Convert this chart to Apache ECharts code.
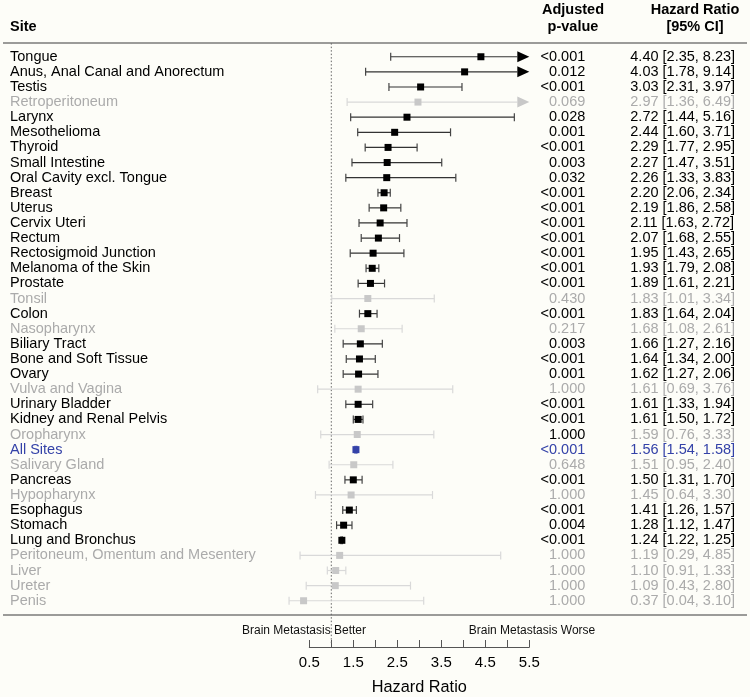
<!DOCTYPE html>
<html><head><meta charset="utf-8">
<script src="https://cdn.jsdelivr.net/npm/echarts@6/dist/echarts.min.js"></script>
<style>html,body{margin:0;padding:0;background:#fdfdf8}#c{width:750px;height:697px}</style>
</head><body><div id="c"></div>
<script>
const sites = ['Tongue','Anus, Anal Canal and Anorectum','Testis','Retroperitoneum','Larynx','Mesothelioma','Thyroid','Small Intestine','Oral Cavity excl. Tongue','Breast','Uterus','Cervix Uteri','Rectum','Rectosigmoid Junction','Melanoma of the Skin','Prostate','Tonsil','Colon','Nasopharynx','Biliary Tract','Bone and Soft Tissue','Ovary','Vulva and Vagina','Urinary Bladder','Kidney and Renal Pelvis','Oropharynx','All Sites','Salivary Gland','Pancreas','Hypopharynx','Esophagus','Stomach','Lung and Bronchus','Peritoneum, Omentum and Mesentery','Liver','Ureter','Penis'];
const hr = [4.40,4.03,3.03,2.97,2.72,2.44,2.29,2.27,2.26,2.20,2.19,2.11,2.07,1.95,1.93,1.89,1.83,1.83,1.68,1.66,1.64,1.62,1.61,1.61,1.61,1.59,1.56,1.51,1.50,1.45,1.41,1.28,1.24,1.19,1.10,1.09,0.37];
const lo = [2.35,1.78,2.31,1.36,1.44,1.60,1.77,1.47,1.33,2.06,1.86,1.63,1.68,1.43,1.79,1.61,1.01,1.64,1.08,1.27,1.34,1.27,0.69,1.33,1.50,0.76,1.54,0.95,1.31,0.64,1.26,1.12,1.22,0.29,0.91,0.43,0.04];
const hi = [8.23,9.14,3.97,6.49,5.16,3.71,2.95,3.51,3.83,2.34,2.58,2.72,2.55,2.65,2.08,2.21,3.34,2.04,2.61,2.16,2.00,2.06,3.76,1.94,1.72,3.33,1.58,2.40,1.70,3.30,1.57,1.47,1.25,4.85,1.33,2.80,3.10];
const pvals = ['<0.001','0.012','<0.001','0.069','0.028','0.001','<0.001','0.003','0.032','<0.001','<0.001','<0.001','<0.001','<0.001','<0.001','<0.001','0.430','<0.001','0.217','0.003','<0.001','0.001','1.000','<0.001','<0.001','1.000','<0.001','0.648','<0.001','1.000','<0.001','0.004','<0.001','1.000','1.000','1.000','1.000'];
// k = significant (black), g = not significant (grey), b = all sites (blue)
const rowStyle = ['k','k','k','g','k','k','k','k','k','k','k','k','k','k','k','k','g','k','g','k','k','k','g','k','k','g','b','g','k','g','k','k','k','g','g','g','g'];
const pStyle   = ['k','k','k','g','k','k','k','k','k','k','k','k','k','k','k','k','g','k','g','k','k','k','g','k','k','k','b','g','k','g','k','k','k','g','g','g','g'];
const xTickLabels = ['0.5','1.5','2.5','3.5','4.5','5.5'];
const xMin = 0.5, xMax = 5.5;

const FONT = '"Liberation Sans", Arial, Helvetica, sans-serif';
const COL = {k:'#000000', g:'#ababab', b:'#3442a8'};
const rich = {
  k:{color:COL.k, fontSize:14.5, fontFamily:FONT},
  g:{color:COL.g, fontSize:14.5, fontFamily:FONT},
  b:{color:COL.b, fontSize:14.5, fontFamily:FONT}
};
const hrText = hr.map((v,i)=> v.toFixed(2)+' ['+lo[i].toFixed(2)+', '+hi[i].toFixed(2)+']');

function renderItem(params, api) {
  const i = params.dataIndex;
  const v = api.value(0), l = api.value(1), h = api.value(2), row = api.value(3);
  const st = rowStyle[i];
  const pC = api.coord([v, row]);
  const pL = api.coord([l, row]);
  const clipped = h > xMax;
  const pH = api.coord([clipped ? xMax : h, row]);
  const band = api.size([0, 1])[1];
  const lineColor = st === 'g' ? '#d9d9d9' : (st === 'b' ? '#3442a8' : '#333333');
  const boxColor = st === 'g' ? '#c8c8c8' : (st === 'b' ? '#3442a8' : '#000000');
  const capColor = st === 'g' ? '#d9d9d9' : (st === 'b' ? '#3442a8' : '#444444');
  const arrowColor = st === 'g' ? '#c8c8c8' : '#000000';
  const cap = 4, box = 7, arrowLen = 12, arrowHalf = 5.5;
  const y = pC[1];
  const children = [];
  if (i === 0) {
    const top = api.coord([1, 0]);
    const bot = api.coord([1, sites.length - 1]);
    children.push({type:'line', z2:0, shape:{x1:top[0], y1:top[1] - 0.9*band, x2:bot[0], y2:bot[1] + 2.8*band},
      style:{stroke:'#666', lineWidth:1, lineDash:[1.5,2]}});
  }
  const lineEnd = clipped ? pH[0] - arrowLen : pH[0];
  children.push({type:'line', shape:{x1:pL[0], y1:y, x2:lineEnd, y2:y}, style:{stroke:lineColor, lineWidth:1.2}});
  children.push({type:'line', shape:{x1:pL[0], y1:y-cap, x2:pL[0], y2:y+cap}, style:{stroke:capColor, lineWidth:1.2}});
  if (!clipped) {
    children.push({type:'line', shape:{x1:pH[0], y1:y-cap, x2:pH[0], y2:y+cap}, style:{stroke:capColor, lineWidth:1.2}});
  } else {
    children.push({type:'polygon', shape:{points:[[pH[0]-arrowLen, y-arrowHalf],[pH[0], y],[pH[0]-arrowLen, y+arrowHalf]]}, style:{fill:arrowColor}});
  }
  children.push({type:'rect', shape:{x:pC[0]-box/2, y:y-box/2, width:box, height:box}, style:{fill:boxColor}});
  return {type:'group', children};
}

const chart = echarts.init(document.getElementById('c'), null, {renderer:'canvas'});
const gridLeft = 309.3, gridRight = 220.7, gridTop = 49.2, gridBottom = 88.7;
chart.setOption({
  backgroundColor:'#fdfdf8',
  animation:false,
  grid:{left:gridLeft, right:gridRight, top:gridTop, bottom:gridBottom, containLabel:false, outerBoundsMode:'none'},
  xAxis:{
    type:'value', min:xMin, max:xMax, interval:0.5, position:'bottom', offset:38.7,
    axisLine:{show:true, lineStyle:{color:'#555', width:1}},
    axisTick:{show:true, inside:true, length:7, lineStyle:{color:'#555', width:1}},
    splitLine:{show:false},
    axisLabel:{margin:8, fontSize:15, color:'#000', fontFamily:FONT,
      formatter:(val)=>{ const s = val.toFixed(1); return xTickLabels.indexOf(s) >= 0 ? s : ''; }},
    name:'Hazard Ratio', nameLocation:'middle', nameGap:33,
    nameTextStyle:{fontSize:16.3, color:'#000', fontFamily:FONT}
  },
  yAxis:[
    {type:'category', data:sites, inverse:true, position:'left',
     axisLine:{show:false}, axisTick:{show:false}, splitLine:{show:false},
     axisLabel:{interval:0, align:'left', margin:gridLeft-10, hideOverlap:false,
       formatter:(val, idx)=>'{'+rowStyle[idx]+'|'+sites[idx]+'}', rich:rich}},
    {type:'category', data:sites, inverse:true, position:'right',
     axisLine:{show:false}, axisTick:{show:false}, splitLine:{show:false},
     axisLabel:{interval:0, align:'right', margin:56, hideOverlap:false,
       formatter:(val, idx)=>'{'+pStyle[idx]+'|'+pvals[idx]+'}', rich:rich}},
    {type:'category', data:sites, inverse:true, position:'right',
     axisLine:{show:false}, axisTick:{show:false}, splitLine:{show:false},
     axisLabel:{interval:0, align:'left', margin:101, hideOverlap:false,
       formatter:(val, idx)=>'{'+rowStyle[idx]+'|'+hrText[idx]+'}', rich:rich}}
  ],
  series:[{
    type:'custom', renderItem:renderItem, clip:false,
    xAxisIndex:0, yAxisIndex:0,
    encode:{x:[0,1,2], y:3},
    data: sites.map((s,i)=>[hr[i], lo[i], hi[i], i])
  }],
  graphic:[
    {type:'line', shape:{x1:3, y1:43, x2:747, y2:43}, style:{stroke:'#7a7a7a', lineWidth:1.6}},
    {type:'line', shape:{x1:3, y1:615, x2:747, y2:615}, style:{stroke:'#7a7a7a', lineWidth:1.6}},
    {type:'text', x:10, y:27, style:{text:'Site', font:'bold 14.5px '+FONT, fill:'#000', align:'left', verticalAlign:'middle'}},
    {type:'text', x:573, y:10, style:{text:'Adjusted', font:'bold 14.5px '+FONT, fill:'#000', align:'center', verticalAlign:'middle'}},
    {type:'text', x:573, y:27, style:{text:'p-value', font:'bold 14.5px '+FONT, fill:'#000', align:'center', verticalAlign:'middle'}},
    {type:'text', x:695, y:10, style:{text:'Hazard Ratio', font:'bold 14.5px '+FONT, fill:'#000', align:'center', verticalAlign:'middle'}},
    {type:'text', x:695, y:27, style:{text:'[95% CI]', font:'bold 14.5px '+FONT, fill:'#000', align:'center', verticalAlign:'middle'}},
    {type:'text', x:304, y:631, style:{text:'Brain Metastasis Better', font:'12px '+FONT, fill:'#111', align:'center', verticalAlign:'middle'}},
    {type:'text', x:532, y:631, style:{text:'Brain Metastasis Worse', font:'12px '+FONT, fill:'#111', align:'center', verticalAlign:'middle'}}
  ]
});
</script>
</body></html>
